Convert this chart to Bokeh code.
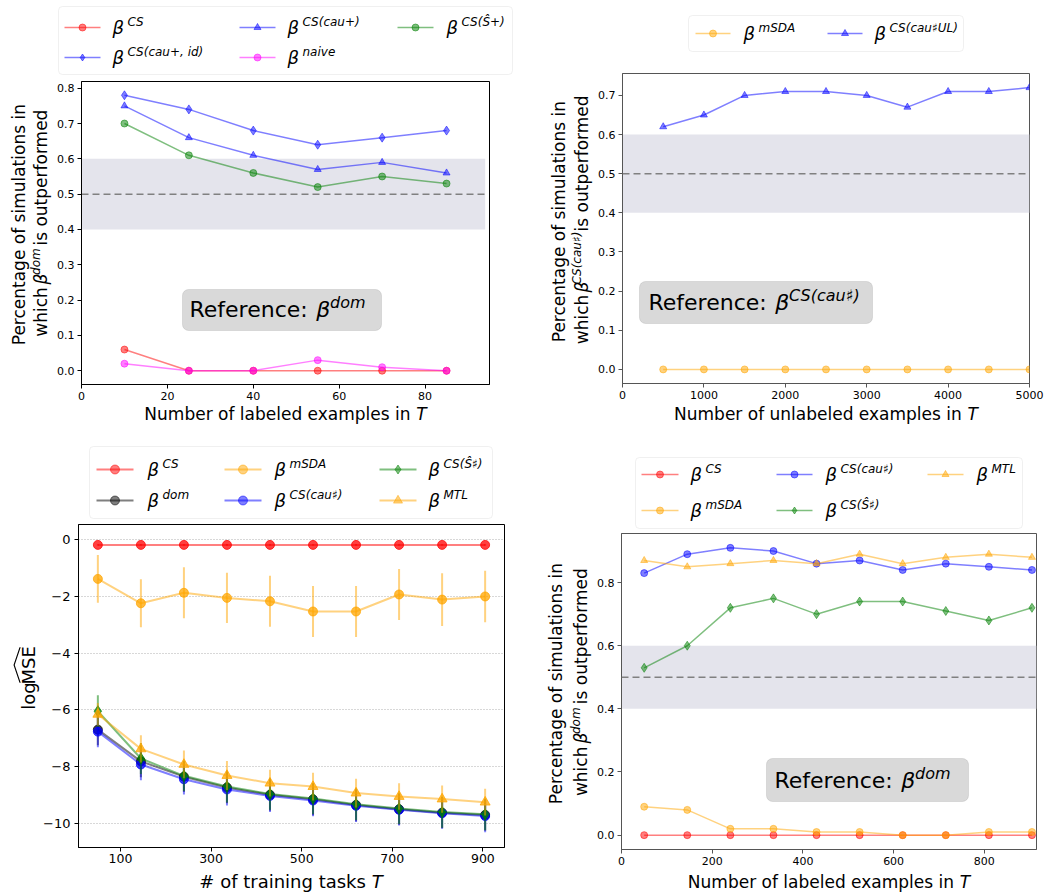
import math
from bokeh.plotting import figure
from bokeh.models import (Range1d, Label, BoxAnnotation, PolyAnnotation, Span,
                          FixedTicker, ColumnDataSource, PrintfTickFormatter)
from bokeh.layouts import column, row
from bokeh.embed import file_html
from bokeh.resources import INLINE

# ---------------- data ----------------
# Panel 1 (top-left): reference beta^dom, x = labeled examples in T
labeled_T1 = [10, 25, 40, 55, 70, 85]
p1_cs = [0.06, 0.00, 0.00, 0.00, 0.00, 0.00]
p1_cau_id = [0.78, 0.74, 0.68, 0.64, 0.66, 0.68]
p1_cau = [0.75, 0.66, 0.61, 0.57, 0.59, 0.56]
p1_naive = [0.02, 0.00, 0.00, 0.03, 0.01, 0.00]
p1_shat = [0.70, 0.61, 0.56, 0.52, 0.55, 0.53]

# Panel 2 (top-right): reference beta^CS(cau#), x = unlabeled examples in T
unlabeled_T = [500, 1000, 1500, 2000, 2500, 3000, 3500, 4000, 4500, 5000]
p2_msda = [0.00, 0.00, 0.00, 0.00, 0.00, 0.00, 0.00, 0.00, 0.00, 0.00]
p2_cau_ul = [0.62, 0.65, 0.70, 0.71, 0.71, 0.70, 0.67, 0.71, 0.71, 0.72]

# Panel 3 (bottom-left): log MSE vs number of training tasks
tasks_T = [50, 145, 240, 335, 430, 525, 620, 715, 810, 905]
p3_cs = [-0.18, -0.18, -0.18, -0.18, -0.18, -0.18, -0.18, -0.18, -0.18, -0.18]
p3_cs_err = [0.03, 0.03, 0.03, 0.03, 0.03, 0.03, 0.03, 0.03, 0.03, 0.03]
p3_msda = [-1.38, -2.24, -1.87, -2.05, -2.17, -2.53, -2.53, -1.93, -2.11, -2.00]
p3_msda_err = [0.84, 0.85, 0.90, 0.89, 0.90, 0.90, 0.90, 0.90, 0.93, 0.91]
p3_dom = [-6.70, -7.82, -8.36, -8.74, -9.00, -9.16, -9.36, -9.51, -9.63, -9.71]
p3_dom_err = [0.55, 0.56, 0.54, 0.56, 0.56, 0.56, 0.57, 0.55, 0.55, 0.56]
p3_cau = [-6.77, -7.93, -8.45, -8.81, -9.04, -9.20, -9.39, -9.53, -9.65, -9.75]
p3_cau_err = [0.55, 0.56, 0.54, 0.57, 0.57, 0.56, 0.57, 0.55, 0.55, 0.57]
p3_shat = [-6.05, -7.72, -8.33, -8.71, -8.97, -9.13, -9.33, -9.48, -9.61, -9.69]
p3_shat_err = [0.56, 0.55, 0.54, 0.56, 0.56, 0.55, 0.56, 0.55, 0.55, 0.56]
p3_mtl = [-6.16, -7.38, -7.93, -8.32, -8.59, -8.71, -8.94, -9.06, -9.15, -9.26]
p3_mtl_err = [0.40, 0.48, 0.49, 0.51, 0.47, 0.49, 0.51, 0.47, 0.48, 0.47]

# Panel 4 (bottom-right): reference beta^dom, x = labeled examples in T
labeled_T4 = [50, 145, 240, 335, 430, 525, 620, 715, 810, 905]
p4_cs = [0.00, 0.00, 0.00, 0.00, 0.00, 0.00, 0.00, 0.00, 0.00, 0.00]
p4_msda = [0.09, 0.08, 0.02, 0.02, 0.01, 0.01, 0.00, 0.00, 0.01, 0.01]
p4_cau = [0.83, 0.89, 0.91, 0.90, 0.86, 0.87, 0.84, 0.86, 0.85, 0.84]
p4_shat = [0.53, 0.60, 0.72, 0.75, 0.70, 0.74, 0.74, 0.71, 0.68, 0.72]
p4_mtl = [0.87, 0.85, 0.86, 0.87, 0.86, 0.89, 0.86, 0.88, 0.89, 0.88]

band_lo, band_hi, chance = 0.4, 0.6, 0.5
p1_band_end = 94

# ---------------- styling helpers ----------------
FONT = "DejaVu Sans"
RED, BLUE, GREEN, MAG, ORANGE, BLACK = "#ff0000", "#0000ff", "#008000", "#ff00ff", "#ffa500", "#000000"
MID = 0.346  # distance (in em) from the alphabetic baseline up to the text's middle

WID = {' ': .318, '#': .838, '(': .390, ')': .390, '+': .838, ',': .318, '.': .318, ':': .337,
       'A': .684, 'C': .698, 'D': .770, 'E': .632, 'L': .557, 'M': .863, 'N': .748, 'P': .603,
       'R': .695, 'S': .635, 'T': .611, 'U': .732, 'Ŝ': .635,
       'a': .613, 'b': .635, 'c': .550, 'd': .635, 'e': .615, 'f': .352, 'g': .635, 'h': .634,
       'i': .278, 'k': .579, 'l': .278, 'm': .974, 'n': .634, 'o': .612, 'p': .635, 'r': .411,
       's': .521, 't': .392, 'u': .634, 'v': .592, 'w': .818, 'x': .592, 'β': .635, '♯': .45}


def tw(s, size):
    return sum(WID.get(c, 0.6) for c in s) * size


def lab(p, x, y, text, size, italic=False, angle=0.0, units="data", align="left",
        baseline="middle"):
    p.add_layout(Label(x=x, y=y, x_units=units, y_units=units, text=text,
                       text_font=FONT, text_font_size=f"{size}px",
                       text_font_style="italic" if italic else "normal",
                       text_align=align, text_baseline=baseline,
                       text_color="black", angle=angle))


def canvas(x0, y0, w, h):
    """Axis-less figure whose data coordinates equal page pixels (y downward)."""
    c = figure(width=w, height=h, x_range=Range1d(x0, x0 + w), y_range=Range1d(y0 + h, y0),
               output_backend="svg", toolbar_location=None, x_axis_type=None, y_axis_type=None,
               min_border=0, min_border_left=0, min_border_right=0, min_border_top=0,
               min_border_bottom=0)
    c.outline_line_color = None
    c.background_fill_color = "white"
    c.border_fill_color = "white"
    return c


def htext_page(c, pieces, px, base_py, center=False):
    total = sum(tw(t, s) for t, s, _, _ in pieces)
    x = px - total / 2 if center else px
    for t, s, it, rise in pieces:
        lab(c, x, base_py - rise - MID * s, t, s, it)
        x += tw(t, s)


def vtext_page(c, pieces, mid_px, center_py):
    """Text rotated 90deg CCW; each piece anchored at the centre of its visible glyphs
    (SVG drops leading/trailing blanks, so they are accounted for separately)."""
    total = sum(tw(t, s) for t, s, _, _ in pieces)
    y = center_py + total / 2
    for t, s, it, rise in pieces:
        core = t.strip(" ")
        lead = tw(t[:len(t) - len(t.lstrip(" "))], s)
        w_core = tw(core, s)
        lab(c, mid_px - rise, y - lead - w_core / 2, core, s, it, angle=math.pi / 2,
            align="center")
        y -= tw(t, s)


def make_main(x0, y0, w, h, fr, xr, yr, frame_color, xtick_size, ytick_size, xticks, yticks,
              standoff=3):
    fl, ft, frr, fb = fr
    p = figure(width=w, height=h, x_range=Range1d(*xr), y_range=Range1d(*yr),
               output_backend="svg", toolbar_location=None,
               min_border_left=fl - x0, min_border_right=x0 + w - frr,
               min_border_top=ft - y0, min_border_bottom=y0 + h - fb)
    p.outline_line_color = frame_color
    p.outline_line_alpha = 1
    p.outline_line_width = 1
    p.grid.visible = False
    p.background_fill_color = "white"
    p.border_fill_color = "white"
    for ax, sz in ((p.xaxis[0], xtick_size), (p.yaxis[0], ytick_size)):
        ax.major_tick_out = 4
        ax.major_tick_in = 0
        ax.minor_tick_line_color = None
        ax.axis_line_color = frame_color
        ax.major_tick_line_color = frame_color
        ax.major_label_text_font = FONT
        ax.major_label_text_font_size = f"{sz}px"
        ax.major_label_text_color = "black"
        ax.major_label_standoff = standoff
    p.xaxis[0].ticker = FixedTicker(ticks=xticks)
    p.yaxis[0].ticker = FixedTicker(ticks=yticks)
    return p


def series(p, x, y, color, marker, size, lw=1.5, alpha=0.5, malpha=0.5):
    src = ColumnDataSource(dict(x=x, y=y))
    p.line("x", "y", source=src, line_color=color, line_alpha=alpha, line_width=lw)
    p.scatter("x", "y", source=src, marker=marker, size=size, fill_color=color,
              line_color=color, fill_alpha=malpha, line_alpha=malpha)


def err_series(p, x, y, e, color, marker, size):
    lo = [a - b for a, b in zip(y, e)]
    hi = [a + b for a, b in zip(y, e)]
    src = ColumnDataSource(dict(x=x, y=y, lo=lo, hi=hi))
    p.line("x", "y", source=src, line_color=color, line_alpha=0.5, line_width=2)
    p.segment(x0="x", y0="lo", x1="x", y1="hi", source=src, line_color=color,
              line_alpha=0.5, line_width=2)
    p.scatter("x", "y", source=src, marker=marker, size=size, fill_color=color,
              line_color=color, fill_alpha=0.75, line_alpha=0.75)


def ref_box(p, fr, box, sup, text_x, base_y):
    """Grey 'Reference' box inside the frame; positions in page pixels -> frame screen units."""
    l, t, r, b = box
    p.add_layout(BoxAnnotation(left=l - fr[0], right=r - fr[0], top=fr[3] - t, bottom=fr[3] - b,
                               left_units="screen", right_units="screen",
                               top_units="screen", bottom_units="screen",
                               fill_color="#d9d9d9", fill_alpha=1, line_color="#a6a6a6",
                               line_width=1, border_radius=6))
    x = text_x
    for t, s, it, rise in [("Reference: ", 22, False, 0), ("β", 22, True, 0), (sup, 16, True, 9)]:
        lab(p, x - fr[0], fr[3] - (base_y - rise - MID * s), t, s, it, units="screen")
        x += tw(t, s)


def make_legend(x0, y0, w, h, box, items, size_m, lw):
    lf = canvas(x0, y0, w, h)
    l, t, r, b = box
    lf.add_layout(BoxAnnotation(left=l, right=r, top=t, bottom=b, fill_color="white",
                                fill_alpha=1, line_color="#cccccc", line_width=1,
                                border_radius=4, level="underlay"))
    for (xa, xb, xt, yr, color, marker, sup) in items:
        lf.line(x=[xa, xb], y=[yr, yr], line_color=color, line_alpha=0.5, line_width=lw)
        lf.scatter(x=[(xa + xb) / 2], y=[yr], marker=marker, size=size_m, fill_color=color,
                   line_color=color, fill_alpha=0.5, line_alpha=0.5)
        lab(lf, xt, yr + 6 - MID * 18, "β", 18, True)
        lab(lf, xt + 15, yr - 1 - MID * 12, sup, 12, True)
    return lf


pct = [("Percentage of simulations in", 17, False, 0)]


def which_full(sup):
    # "which β^sup is outperformed" (17px main text, 12px superscript)
    return [("which ", 17, False, 0), ("β", 17, True, 0), (sup + " ", 12, True, 5.5),
            (" is outperformed", 17, False, 0)]


# ---------------- Panel 1 (x 0..530, y 0..438) ----------------
L1 = make_legend(0, 0, 530, 78, (58, 6, 512, 74), [
    (64, 100, 112, 27, RED, "circle", "CS"),
    (239, 275, 287, 27, BLUE, "triangle", "CS(cau+)"),
    (397, 433, 446, 27, GREEN, "circle", "CS(Ŝ+)"),
    (64, 100, 112, 57, BLUE, "diamond", "CS(cau+, id)"),
    (239, 275, 287, 57, MAG, "circle", "naive"),
], 7, 1.5)

fr1 = (81, 81, 489, 384)
Y1 = canvas(0, 78, 52, 327)
vtext_page(Y1, pct, 18.5, 232.5)
vtext_page(Y1, which_full("dom"), 40.5, 232.5)
P1 = make_main(52, 78, 478, 327, fr1, (0, 95), (-0.039, 0.819), "black", 11, 11,
               [0, 20, 40, 60, 80], [0.0, 0.1, 0.2, 0.3, 0.4, 0.5, 0.6, 0.7, 0.8])
P1.yaxis[0].formatter = PrintfTickFormatter(format="%.1f")
P1.add_layout(BoxAnnotation(left=0, right=p1_band_end, bottom=band_lo, top=band_hi,
                            fill_color="#e4e4ec", fill_alpha=1, line_color=None, level="underlay"))
P1.line(x=[0, p1_band_end], y=[chance, chance], line_color="#808080", line_width=1.5, line_dash="7 4")
series(P1, labeled_T1, p1_cs, RED, "circle", 7)
series(P1, labeled_T1, p1_cau_id, BLUE, "diamond", 9)
series(P1, labeled_T1, p1_cau, BLUE, "triangle", 7)
series(P1, labeled_T1, p1_naive, MAG, "circle", 7)
series(P1, labeled_T1, p1_shat, GREEN, "circle", 7)
ref_box(P1, fr1, (182, 289, 381, 330), "dom", 189, 317)
F1 = canvas(0, 405, 530, 33)
htext_page(F1, [("Number of labeled examples in ", 17, False, 0), ("T", 17, True, 0)], 285, 419.5, center=True)

# ---------------- Panel 2 (x 530..1055, y 0..438) ----------------
L2 = make_legend(530, 0, 525, 66, (688, 15, 963, 51), [
    (695, 730, 743, 33, ORANGE, "circle", "mSDA"),
    (827, 862, 874, 33, BLUE, "triangle", "CS(cau♯UL)"),
], 7, 1.5)

fr2 = (622, 73, 1029, 383)
Y2 = canvas(530, 66, 63, 339)
vtext_page(Y2, pct, 558.5, 228)
vtext_page(Y2, which_full("CS(cau♯)"), 581.5, 228)
P2 = make_main(593, 66, 462, 339, fr2, (0, 5000), (-0.036, 0.756), "#555555", 11, 11,
               [0, 1000, 2000, 3000, 4000, 5000], [0.0, 0.1, 0.2, 0.3, 0.4, 0.5, 0.6, 0.7])
P2.yaxis[0].formatter = PrintfTickFormatter(format="%.1f")
P2.add_layout(BoxAnnotation(bottom=band_lo, top=band_hi, fill_color="#e4e4ec", fill_alpha=1,
                            line_color=None, level="underlay"))
P2.add_layout(Span(location=chance, dimension="width", line_color="#808080", line_width=1.5,
                   line_dash="7 4"))
series(P2, unlabeled_T, p2_msda, ORANGE, "circle", 7)
series(P2, unlabeled_T, p2_cau_ul, BLUE, "triangle", 7)
ref_box(P2, fr2, (639, 281, 872, 323), "CS(cau♯)", 648, 310)
F2 = canvas(530, 405, 525, 33)
htext_page(F2, [("Number of unlabeled examples in ", 17, False, 0), ("T", 17, True, 0)], 825.5, 419.5, center=True)

# ---------------- Panel 3 (x 0..530, y 438..892) ----------------
L3 = make_legend(0, 438, 530, 82, (89, 446, 492, 518), [
    (96, 133, 147, 469, RED, "circle", "CS"),
    (96, 133, 147, 500, BLACK, "circle", "dom"),
    (224, 261, 274, 469, ORANGE, "circle", "mSDA"),
    (224, 261, 274, 500, BLUE, "circle", "CS(cau♯)"),
    (379, 416, 428, 469, GREEN, "diamond", "CS(Ŝ♯)"),
    (379, 416, 428, 500, ORANGE, "triangle", "MTL"),
], 9, 2)

fr3 = (77, 524, 504, 847)
Y3 = canvas(0, 520, 40, 347)
vtext_page(Y3, [("log", 18, False, 0), ("MSE", 18, False, 0)], 28, 685)
# wide hat over "MSE" (rotated with the label)
Y3.add_layout(PolyAnnotation(xs=[19, 13, 19, 20.2, 14.2, 20.2],
                             ys=[690, 671, 652, 652, 671, 690],
                             fill_color="black", fill_alpha=1, line_color=None))
P3 = make_main(40, 520, 490, 347, fr3, (7.25, 947.75), (-10.86, 0.54), "black", 12.5, 13,
               [100, 300, 500, 700, 900], [0, -2, -4, -6, -8, -10], standoff=2)
P3.yaxis[0].major_label_standoff = 4
P3.yaxis[0].major_label_overrides = {0: "0", -2: "−2", -4: "−4", -6: "−6", -8: "−8", -10: "−10"}
P3.ygrid.visible = True
P3.ygrid.grid_line_color = "#b0b0b0"
P3.ygrid.grid_line_dash = "1 2"
P3.ygrid.grid_line_width = 1
P3.ygrid.ticker = FixedTicker(ticks=[0, -2, -4, -6, -8, -10])
err_series(P3, tasks_T, p3_cs, p3_cs_err, RED, "circle", 9)
err_series(P3, tasks_T, p3_dom, p3_dom_err, BLACK, "circle", 9)
err_series(P3, tasks_T, p3_msda, p3_msda_err, ORANGE, "circle", 9)
err_series(P3, tasks_T, p3_cau, p3_cau_err, BLUE, "circle", 9)
err_series(P3, tasks_T, p3_shat, p3_shat_err, GREEN, "diamond", 11)
err_series(P3, tasks_T, p3_mtl, p3_mtl_err, ORANGE, "triangle", 10)
F3 = canvas(0, 867, 530, 25)
htext_page(F3, [("# of training tasks ", 18, False, 0), ("T", 18, True, 0)], 290.5, 887, center=True)

# ---------------- Panel 4 (x 530..1055, y 438..892) ----------------
L4 = make_legend(530, 438, 525, 92, (635, 457, 1022, 528), [
    (641, 678, 690, 474, RED, "circle", "CS"),
    (641, 678, 690, 510, ORANGE, "circle", "mSDA"),
    (776, 812, 825, 474, BLUE, "circle", "CS(cau♯)"),
    (776, 812, 825, 510, GREEN, "diamond", "CS(Ŝ♯)"),
    (927, 963, 976, 474, ORANGE, "triangle", "MTL"),
], 7, 1.5)

fr4 = (621, 533, 1036, 849)
Y4 = canvas(530, 530, 62, 339)
vtext_page(Y4, pct, 555.5, 691)
vtext_page(Y4, which_full("dom"), 580.5, 691)
P4 = make_main(592, 530, 463, 339, fr4, (0, 915), (-0.0455, 0.9555), "#555555", 11, 11,
               [0, 200, 400, 600, 800], [0.0, 0.2, 0.4, 0.6, 0.8], standoff=3)
P4.yaxis[0].formatter = PrintfTickFormatter(format="%.1f")
P4.add_layout(BoxAnnotation(bottom=band_lo, top=band_hi, fill_color="#e4e4ec", fill_alpha=1,
                            line_color=None, level="underlay"))
P4.add_layout(Span(location=chance, dimension="width", line_color="#808080", line_width=1.5,
                   line_dash="7 4"))
series(P4, labeled_T4, p4_cs, RED, "circle", 7)
series(P4, labeled_T4, p4_msda, ORANGE, "circle", 7)
series(P4, labeled_T4, p4_cau, BLUE, "circle", 7)
series(P4, labeled_T4, p4_shat, GREEN, "diamond", 9)
series(P4, labeled_T4, p4_mtl, ORANGE, "triangle", 7)
ref_box(P4, fr4, (766, 758, 968, 801), "dom", 774, 788)
F4 = canvas(530, 869, 525, 23)
htext_page(F4, [("Number of labeled examples in ", 17, False, 0), ("T", 17, True, 0)], 828.5, 887, center=True)

layout = column(
    row(column(L1, row(Y1, P1), F1), column(L2, row(Y2, P2), F2)),
    row(column(L3, row(Y3, P3), F3), column(L4, row(Y4, P4), F4)),
)
open("out.html", "w").write(file_html(layout, INLINE))
